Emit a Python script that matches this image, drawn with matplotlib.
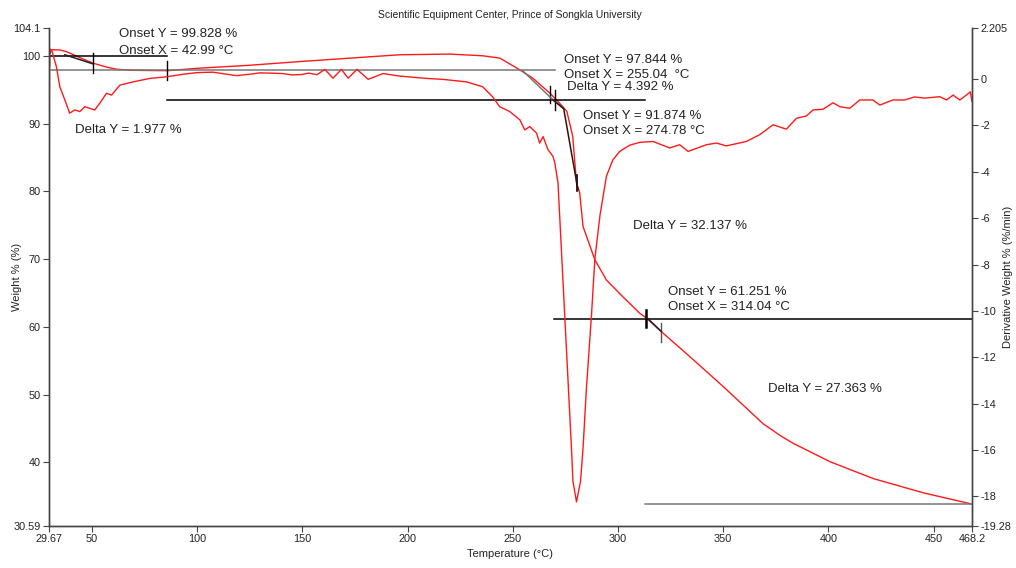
import numpy as np
import matplotlib
matplotlib.use("Agg")
import matplotlib.pyplot as plt

plt.rcParams["font.family"] = ["Liberation Sans", "DejaVu Sans"]

# TGA weight curve (left axis)
temp_tga = [29.67, 31.0, 35.0, 38.0, 41.0, 44.5, 50.7, 57.4, 62.0, 70.0, 86.0,
            100.0, 125.0, 149.0, 175.0, 196.3, 220.1, 235.7, 243.8, 251.9,
            259.5, 267.6, 272.3, 275.7, 278.5, 280.3, 281.8, 283.4, 289.0,
            294.5, 302.4, 310.3, 313.5, 319.8, 334.1, 349.9, 368.9, 376.8,
            383.2, 400.6, 421.2, 444.9, 467.1, 468.2]
weight = [100.1, 100.9, 100.85, 100.6, 100.2, 99.7, 98.9, 98.3, 98.0, 97.85, 97.8,
          98.15, 98.6, 99.15, 99.7, 100.15, 100.25, 100.0, 99.66, 98.2,
          96.7, 94.5, 93.0, 91.8, 88.1, 81.2, 79.8, 74.8, 69.9,
          66.9, 64.4, 62.0, 61.3, 59.5, 55.6, 51.2, 45.7, 44.0,
          42.8, 40.1, 37.6, 35.5, 33.9, 33.8]

# DTG derivative curve (right axis)
temp_dtg = [29.67, 29.9, 31.0, 33.2, 34.8, 37.2, 39.5, 41.9, 44.3, 46.7, 51.4,
            53.8, 57.0, 59.4, 63.3, 69.6, 77.6, 85.5, 93.4, 100.0, 107.5, 115.0,
            118.7, 125.1, 130.0, 140.7, 145.0, 150.0, 153.0, 157.0, 160.7, 164.6,
            168.6, 171.8, 176.0, 181.3, 188.4,
            196.3, 209.0, 216.7, 228.1, 235.7, 240.4, 243.8, 248.6, 253.4,
            255.7, 258.1, 261.3, 262.8, 264.4, 266.8, 269.1, 270.0, 271.5,
            273.1, 274.7, 276.3, 277.9, 278.6, 280.3, 282.2, 283.4, 285.0,
            287.4, 289.0, 291.4, 294.5, 297.6, 300.8, 305.6, 310.3, 316.6,
            324.6, 329.3, 333.3, 342.0, 346.8, 351.5, 361.0, 367.3, 373.7,
            380.0, 384.8, 389.5, 392.7, 397.4, 402.2, 405.4, 410.1, 414.9,
            421.1, 424.4, 430.6, 436.2, 440.9, 445.7, 452.9, 456.1, 459.2,
            462.4, 465.5, 467.4, 468.2]
deriv = [-10.5, 1.3, 1.24, 0.53, -0.33, -0.90, -1.47, -1.33, -1.40, -1.19, -1.33,
         -1.04, -0.61, -0.69, -0.26, -0.12, 0.03, 0.10, 0.21, 0.28, 0.30, 0.20,
         0.15, 0.21, 0.27, 0.24, 0.18, 0.20, 0.26, 0.19, 0.42, 0.04,
         0.42, 0.04, 0.42, -0.01, 0.24,
         0.13, 0.03, -0.01, -0.12, -0.33, -0.76, -1.19, -1.40, -1.76,
         -2.19, -2.05, -2.33, -2.76, -2.48, -3.05, -3.33, -3.62, -4.48,
         -7.34, -10.2, -13.06, -15.92, -17.35, -18.24, -17.35, -15.92, -13.35,
         -10.2, -7.77, -5.91, -4.19, -3.48, -3.12, -2.85, -2.73, -2.69,
         -2.97, -2.83, -3.12, -2.83, -2.76, -2.88, -2.69, -2.40, -1.97,
         -2.16, -1.69, -1.59, -1.33, -1.30, -1.02, -1.19, -1.26, -0.90,
         -0.90, -1.12, -0.90, -0.90, -0.77, -0.82, -0.76, -0.90, -0.69,
         -0.90, -0.69, -0.55, -0.97]

# onset analysis lines: (T start, T end, weight level, colour)
hlines = [(29.67, 85.5, 99.9, "black"),
          (29.67, 270.0, 97.83, "#777777"),
          (85.5, 313.0, 93.46, "black"),
          (269.5, 468.2, 61.15, "black"),
          (312.7, 468.2, 33.78, "#777777")]
# short vertical markers: (T, weight top, weight bottom, colour, width)
vmarks = [(29.67, 101.1, 98.5, "black", 1.0),
          (50.6, 100.4, 97.5, "black", 1.0),
          (85.5, 99.26, 96.45, "black", 1.0),
          (267.9, 95.5, 93.0, "black", 1.0),
          (269.9, 95.0, 92.0, "black", 1.0),
          (280.6, 82.4, 80.0, "black", 1.2),
          (313.2, 62.5, 59.9, "black", 1.8),
          (320.6, 60.5, 57.8, "#555555", 1.0)]
# tangent segments drawn over the weight curve
tangents = [([37.2, 50.6], [100.15, 98.8], "#222222"),
            ([254.6, 269.1, 274.2], [97.83, 93.5, 92.2], "#777777"),
            ([269.1, 274.2, 281.0], [93.5, 92.2, 80.2], "#331111"),
            ([313.2, 320.6], [61.5, 59.3], "#222222")]

labels = [(62.9, 103.25, "Onset Y = 99.828 %"),
          (62.9, 100.74, "Onset X = 42.99 °C"),
          (41.9, 89.07, "Delta Y = 1.977 %"),
          (274.2, 99.41, "Onset Y = 97.844 %"),
          (274.2, 97.19, "Onset X = 255.04  °C"),
          (275.7, 95.42, "Delta Y = 4.392 %"),
          (283.3, 91.14, "Onset Y = 91.874 %"),
          (283.3, 88.92, "Onset X = 274.78 °C"),
          (307.1, 74.89, "Delta Y = 32.137 %"),
          (323.7, 65.14, "Onset Y = 61.251 %"),
          (323.7, 62.92, "Onset X = 314.04 °C"),
          (371.2, 50.81, "Delta Y = 27.363 %")]

x_ticks = [29.67, 50, 100, 150, 200, 250, 300, 350, 400, 450, 468.2]
x_ticklabels = ["29.67", "50", "100", "150", "200", "250", "300", "350", "400", "450", "468.2"]
left_ticks = [30.59, 40, 50, 60, 70, 80, 90, 100, 104.1]
left_ticklabels = ["30.59", "40", "50", "60", "70", "80", "90", "100", "104.1"]
right_ticks = [-19.28, -18, -16, -14, -12, -10, -8, -6, -4, -2, 0, 2.205]
right_ticklabels = ["-19.28", "-18", "-16", "-14", "-12", "-10", "-8", "-6", "-4", "-2", "0", "2.205"]

W, H = 1016, 568
fig = plt.figure(figsize=(W / 100, H / 100), dpi=100)
ax = fig.add_axes([49 / W, 1 - 526 / H, (972 - 49) / W, (526 - 28) / H])
ax2 = ax.twinx()

spine_col = "#444444"
for a in (ax, ax2):
    a.spines["top"].set_visible(False)
    for s in ("left", "right", "bottom"):
        a.spines[s].set_color(spine_col)
        a.spines[s].set_linewidth(1.0)
    a.tick_params(direction="out", length=4, width=0.8, color=spine_col,
                  labelsize=7.8, pad=2, labelcolor="#222222")
    a.patch.set_visible(False)

ax.set_xlim(29.67, 468.2)
ax.set_ylim(30.59, 104.1)
ax2.set_ylim(-19.28, 2.205)
ax.set_xticks(x_ticks)
ax.set_xticklabels(x_ticklabels)
ax.set_yticks(left_ticks)
ax.set_yticklabels(left_ticklabels)
ax2.set_yticks(right_ticks)
ax2.set_yticklabels(right_ticklabels)

ax2.plot(temp_dtg, deriv, color="#ff1a1a", linewidth=1.0, zorder=2)
ax.plot(temp_tga, weight, color="#ff1a1a", linewidth=1.0, zorder=2)

for x0, x1, y, c in hlines:
    ax.plot([x0, x1], [y, y], color=c, linewidth=1.1, zorder=3)
for x, y0, y1, c, lw in vmarks:
    ax.plot([x, x], [y0, y1], color=c, linewidth=lw, zorder=4)
for xs, ys, c in tangents:
    ax.plot(xs, ys, color=c, linewidth=1.1, zorder=4)

for x, y, s in labels:
    ax.text(x, y, s, fontsize=9.5, color="#222222", va="center", ha="left", zorder=5)

fig.text(510 / W, 1 - 15 / H, "Scientific Equipment Center, Prince of Songkla University",
         fontsize=7.5, ha="center", va="center", color="#222222")
fig.text(510 / W, 1 - 554 / H, "Temperature (°C)", fontsize=8, ha="center", va="center",
         color="#222222")
fig.text(17 / W, 1 - 277 / H, "Weight % (%)", fontsize=8, rotation=90, ha="center",
         va="center", color="#222222")
fig.text(1008 / W, 1 - 277 / H, "Derivative Weight % (%/min)", fontsize=8, rotation=90,
         ha="center", va="center", color="#222222")

fig.savefig("out.png", dpi=100)
